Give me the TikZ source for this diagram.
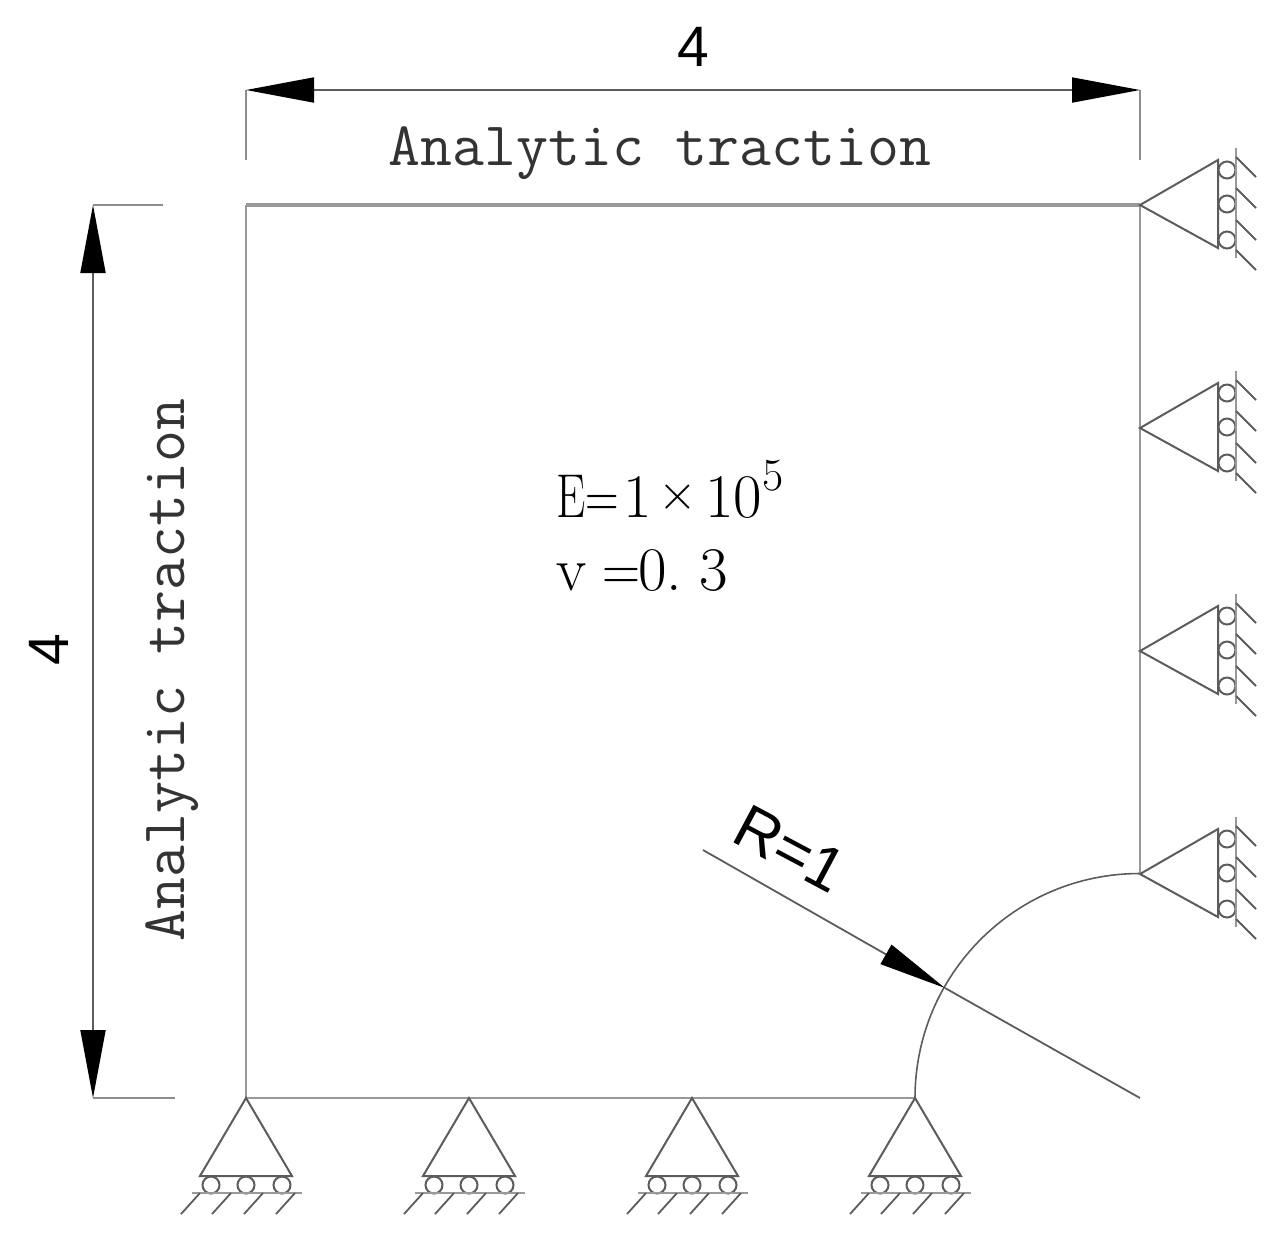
\documentclass[tikz,border=0pt]{standalone}
\usepackage{fontspec}
\newfontfamily\dimfont{Liberation Sans}
\usetikzlibrary{arrows.meta}
\definecolor{plategray}{gray}{0.6}
\definecolor{thingray}{gray}{0.36}
\tikzset{
  px/.style={x=0.5pt,y=-0.5pt},
  plate/.style={draw=plategray,line width=1.7pt},
  hole/.style={draw=thingray,line width=0.8pt},
  ext line/.style={draw=thingray!70,line width=1.1pt},
  dim line/.style={draw=thingray,line width=0.9pt},
  dim both/.style={dim line,{Triangle[length=34pt,width=12.5pt,fill=black,color=black]}-{Triangle[length=34pt,width=12.5pt,fill=black,color=black]}},
  dim end/.style={dim line,-{Triangle[length=34pt,width=11pt,fill=black,color=black]}},
  sup line/.style={draw=thingray,line width=1pt},
  sup roller/.style={draw=thingray,line width=1pt,fill=white},
  ground line/.style={draw=plategray,line width=1.4pt},
  hatch line/.style={draw=thingray,line width=0.9pt},
  mono label/.style={inner sep=0pt,font=\ttfamily\fontsize{31}{31}\selectfont,text=black!80},
  dim label/.style={inner sep=0pt,font=\dimfont\fontsize{28.5}{28.5}\selectfont,text=black},
  radius label/.style={inner sep=0pt,font=\dimfont\fontsize{31}{31}\selectfont,text=black},
  mat label/.style={inner sep=0pt,anchor=base west,font=\rmfamily\fontsize{31}{31}\selectfont,text=black},
  pics/bottomsupport/.style={code={
    \draw[sup line] (0,0) -- (-46,78) -- (46,78) -- cycle;
    \foreach \dx in {-35,0,36} \draw[sup roller] (\dx,87) circle[radius=8.5];
    \draw[ground line] (-54,95) -- (56,95);
    \foreach \dx in {-46,-15,17,49} \draw[hatch line] (\dx,95) -- ++(-19,21);
  }},
  pics/rightsupport/.style={code={
    \draw[sup line] (0,0) -- (78,-45) -- (78,43) -- cycle;
    \foreach \dy in {-35,-1,35} \draw[sup roller] (87,\dy) circle[radius=8.5];
    \draw[ground line] (96,-57) -- (96,53);
    \foreach \dy in {-48,-17,15,45} \draw[hatch line] (96,\dy) -- ++(20,20);
  }},
}
\begin{document}
\begin{tikzpicture}[px]
\useasboundingbox (0,0) rectangle (1277,1239);
\coordinate (tl) at (246,205);
\coordinate (tr) at (1140,205);
\coordinate (bl) at (246,1098);
\coordinate (br) at (915,1098);
\coordinate (ar) at (1140,874);
\coordinate (dimTL) at (246,90);
\coordinate (dimTR) at (1140,90);
\coordinate (extTL) at (246,160);
\coordinate (extTR) at (1140,160);
\coordinate (dimLT) at (93,205);
\coordinate (dimLB) at (93,1098);
\coordinate (extLT) at (163,205);
\coordinate (extLB) at (175,1098);
\coordinate (rA) at (703,850);
\coordinate (rB) at (945,988);
\coordinate (rC) at (1140,1098);
% plate
\draw[plate] (tl) -- (tr);
\draw[plate,line width=1.4pt] (tr) -- (ar);
\draw[plate,line width=1.4pt] (bl) -- (br);
\draw[plate,line width=1.2pt] (tl) -- (bl);
\draw[hole] (br) arc[start angle=180,end angle=270,radius=224.5];
% supports
\foreach \x in {246,469,692,915} \pic at (\x,1098) {bottomsupport};
\foreach \y in {205,428,651,874} \pic at (1140,\y) {rightsupport};
% dimensions
\draw[ext line] (dimTL) -- (extTL);
\draw[ext line] (dimTR) -- (extTR);
\draw[dim both] (dimTL) -- (dimTR);
\draw[ext line] (dimLT) -- (extLT);
\draw[ext line] (dimLB) -- (extLB);
\draw[dim both] (dimLT) -- (dimLB);
\draw[dim end] (rA) -- (rB);
\draw[dim line] (rB) -- (rC);
% labels
\node[dim label] (topfour) at (693,47) {4};
\node[dim label,rotate=90] (leftfour) at (49,650) {4};
\node[mono label] (toptrac) at (660,153) {Analytic traction};
\node[mono label,rotate=90] (lefttrac) at (172,670) {Analytic traction};
\node[radius label,rotate=-28] (radius) at (790,849) {R=1};
\node[mat label] (modulus) at (556,517) {\scalebox{0.75}[1]{E}\scalebox{0.75}[1]{=}\kern2pt 1\kern3.5pt\raisebox{4pt}{$\times$}\kern4pt 10\raisebox{13.5pt}{\fontsize{23}{23}\selectfont 5}};
\node[mat label] (poisson) at (556,590) {v\kern8pt \scalebox{0.85}[1]{=}\kern-1pt 0.\kern8.5pt 3};
\end{tikzpicture}
\end{document}
